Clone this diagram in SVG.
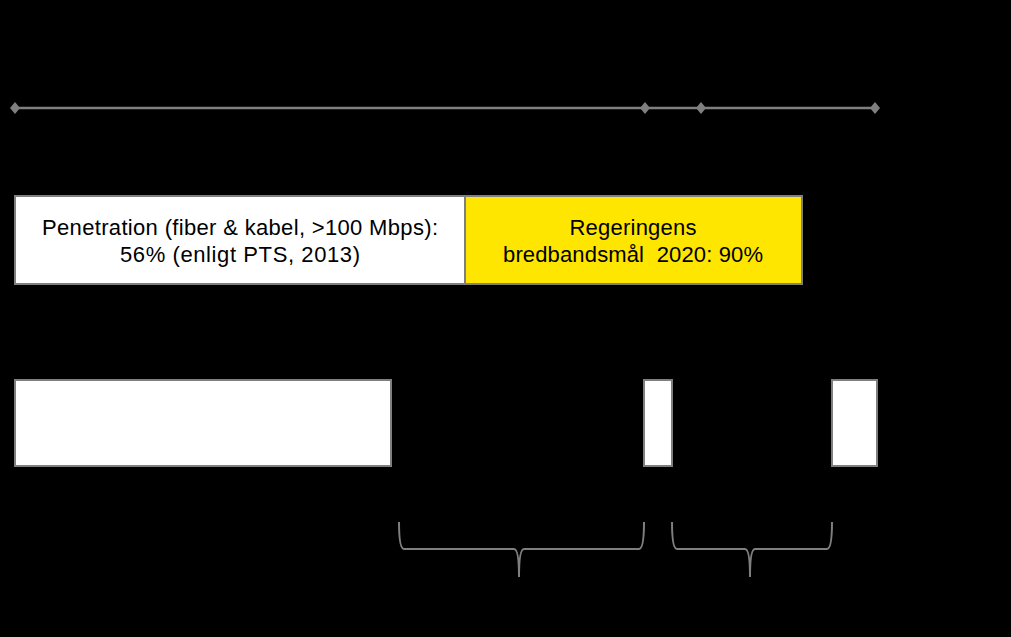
<svg xmlns="http://www.w3.org/2000/svg" width="1011" height="637" viewBox="0 0 1011 637">
<defs>
<style>
.box{stroke:#7f7f7f;stroke-width:2}
.txt{font-family:"Liberation Sans",Arial,sans-serif;font-size:22px;fill:#000;text-anchor:middle;white-space:pre}
.ln{stroke:#7f7f7f;stroke-width:2.5;fill:none}
.br{stroke:#7f7f7f;stroke-width:2;fill:none}
.dm{fill:#7f7f7f}
</style>
</defs>
<rect width="1011" height="637" fill="#000"/>
<g id="connectors">
<line class="ln" x1="15" y1="108" x2="875" y2="108"/>
<path class="dm" d="M15 102 L20 108 L15 114 L10 108 Z"/>
<path class="dm" d="M645 102 L650 108 L645 114 L640 108 Z"/>
<path class="dm" d="M701 102 L706 108 L701 114 L696 108 Z"/>
<path class="dm" d="M875 102 L880 108 L875 114 L870 108 Z"/>
<path class="br" d="M399 522 Q399 549 404 549 L514 549 Q519 549 519 577 Q519 549 524 549 L639 549 Q644 549 644 522"/>
<path class="br" d="M672 522 Q672 549 677 549 L745 549 Q750 549 750 577 Q750 549 755 549 L827 549 Q832 549 832 522"/>
</g>
<g id="penetration">
<rect class="box" x="15" y="196" width="450" height="88" fill="#fff"/>
<text class="txt" x="240" y="235" textLength="396" lengthAdjust="spacing">Penetration (fiber &amp; kabel, &gt;100 Mbps):</text>
<text class="txt" x="240" y="262" textLength="240" lengthAdjust="spacing">56% (enligt PTS, 2013)</text>
</g>
<g id="mal">
<rect class="box" x="465" y="196" width="337" height="88" fill="#ffe600"/>
<text class="txt" x="633" y="235" textLength="127" lengthAdjust="spacing">Regeringens</text>
<text class="txt" x="633" y="262" textLength="260" lengthAdjust="spacing" xml:space="preserve">bredbandsmål  2020: 90%</text>
</g>
<g id="bar1"><rect class="box" x="15" y="380" width="376" height="86" fill="#fff"/></g>
<g id="bar2"><rect class="box" x="644" y="380" width="28" height="86" fill="#fff"/></g>
<g id="bar3"><rect class="box" x="832" y="380" width="45" height="86" fill="#fff"/></g>
</svg>
